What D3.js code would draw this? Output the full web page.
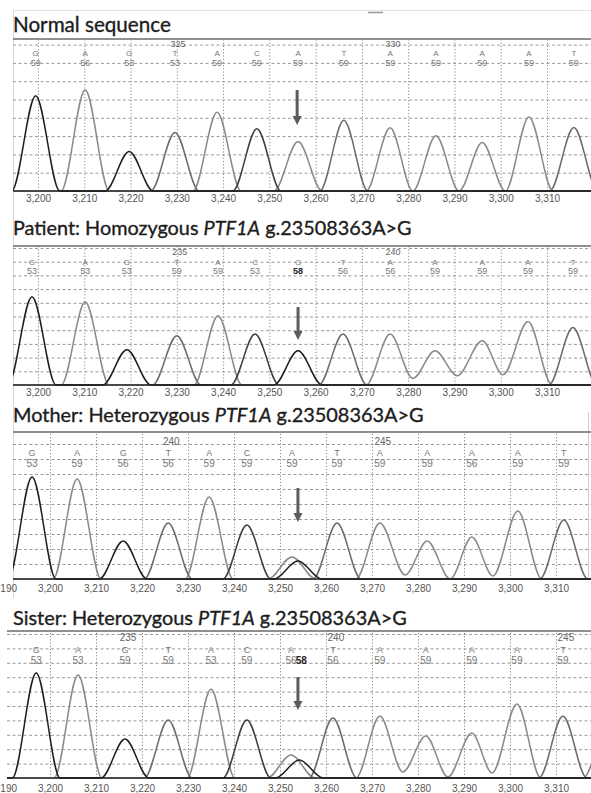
<!DOCTYPE html>
<html>
<head>
<meta charset="utf-8" />
<script src="https://d3js.org/d3.v7.min.js"></script>
<style>
  body { margin: 0; background: #fff; }
  svg { display: block; }
</style>
</head>
<body>
<div class="container"></div>
<script>
  // scan positions on the x axis
  const xTicks = [3190, 3200, 3210, 3220, 3230, 3240, 3250, 3260, 3270, 3280, 3290, 3300, 3310];

  // --- Normal sequence
  const normalTitle = ["Normal sequence"];
  const normalBases = ["G", "A", "G", "T", "A", "C", "A", "T", "A", "A", "A", "A", "T"];
  const normalQuals = ["59", "56", "53", "53", "59", "59", "59", "59", "59", "59", "59", "59", "59"];
  const normalIndex = ["", "", "", "325", "", "", "", "", "330", "", "", "", ""];
  const normalScans = [3199.5, 3210.2, 3219.7, 3229.6, 3238.7, 3247.3, 3256.2, 3266.1, 3276.1, 3286.0, 3296.0, 3306.1, 3315.8];
  const normalHeights = [520, 552, 216, 320, 430, 340, 270, 386, 345, 302, 265, 405, 347];
  const normalValleys = [["A", 3281.0, 0], ["A", 3291.0, 0], ["A", 3301.0, 0]];
  const normalArrow = [3256.0, 552, 361];

  // --- Patient (homozygous)
  const patientTitle = ["Patient: Homozygous ", "PTF1A", " g.23508363A>G"];
  const patientBases = ["G", "A", "G", "T", "A", "C", "G", "T", "A", "A", "A", "A", "T"];
  const patientQuals = ["53", "53", "53", "59", "59", "53", "58", "56", "56", "59", "59", "59", "59"];
  const patientIndex = ["", "", "", "235", "", "", "", "", "240", "", "", "", ""];
  const patientScans = [3198.7, 3210.2, 3219.2, 3230.0, 3238.9, 3246.9, 3256.2, 3265.9, 3276.1, 3285.8, 3296.0, 3305.9, 3315.6];
  const patientHeights = [645, 605, 258, 360, 506, 372, 250, 372, 372, 250, 323, 464, 420];
  const patientValleys = [["A", 3281.0, 48], ["A", 3290.6, 68], ["A", 3300.5, 75]];
  const patientArrow = [3256.2, 569, 328];

  // --- Mother (heterozygous)
  const motherTitle = ["Mother: Heterozygous ", "PTF1A", " g.23508363A>G"];
  const motherBases = ["G", "A", "G", "T", "A", "C", "A", "T", "A", "A", "A", "A", "T"];
  const motherQuals = ["53", "59", "56", "56", "59", "59", "59", "59", "59", "59", "56", "59", "59"];
  const motherIndex = ["", "", "", "240", "", "", "", "", "245", "", "", "", ""];
  const motherScans = [3196.1, 3205.9, 3215.9, 3225.7, 3234.6, 3242.8, 3252.6, 3262.4, 3271.7, 3282.0, 3291.7, 3301.7, 3311.7];
  const motherHeights = [680, 667, 253, 373, 547, 360, 147, 373, 373, 253, 280, 453, 393];
  const motherAltBases = ["G"];
  const motherAltScans = [3253.9];
  const motherAltHeights = [120];
  const motherAltQuals = [""];
  const motherValleys = [["A", 3277.2, 27], ["A", 3287.0, 0], ["A", 3296.3, 20]];
  const motherArrow = [3253.9, 607, 380];

  // --- Sister (heterozygous)
  const sisterTitle = ["Sister: Heterozygous ", "PTF1A", " g.23508363A>G"];
  const sisterBases = ["G", "A", "G", "T", "A", "C", "A", "T", "A", "A", "A", "A", "T"];
  const sisterQuals = ["53", "53", "59", "59", "53", "59", "56", "56", "59", "59", "59", "59", "59"];
  const sisterIndex = ["", "", "235", "", "", "", "", "240", "", "", "", "", "245"];
  const sisterScans = [3197.0, 3206.1, 3216.3, 3225.7, 3235.0, 3242.8, 3252.4, 3261.5, 3271.7, 3281.7, 3291.7, 3301.5, 3311.5];
  const sisterHeights = [729, 715, 271, 403, 618, 403, 160, 417, 431, 292, 313, 514, 431];
  const sisterAltBases = ["G", "A"];
  const sisterAltScans = [3254.2, 3321.1];
  const sisterAltHeights = [125, 350];
  const sisterAltQuals = ["58", ""];
  const sisterValleys = [["A", 3276.7, 42], ["A", 3286.5, 7], ["A", 3296.1, 35]];
  const sisterArrow = [3253.9, 701, 472];

  const baseColor = { G: "#1e1e1e", C: "#3e3e3e", T: "#6c6c6c", A: "#8a8a8a" };
  const halfWidth = 5.2; // scan units from peak to foot
  const W = 591, H = 793;

  const panels = [
    { id: "normal", title: normalTitle, titleWidth: 158, titleY: 32, left: 13, frameTop: 39,
      xRange: [38, 547], baseline: 191, rows: 8, rowGap: 18.3, tickY: 206, labelMinX: 12,
      idxY: 46.5, baseY: 56, qualY: 65.5, callFont: 8,
      bases: normalBases, quals: normalQuals, index: normalIndex, scans: normalScans, heights: normalHeights,
      altBases: [], altScans: [], altHeights: [], altQuals: [], valleys: normalValleys, arrow: normalArrow, darkQual: -1 },
    { id: "patient", title: patientTitle, titleWidth: 399, titleY: 235, left: 13, frameTop: 246,
      xRange: [38, 547], baseline: 385, rows: 10, rowGap: 13.7, tickY: 400, labelMinX: 12,
      idxY: 255, baseY: 264.5, qualY: 273.5, callFont: 8,
      bases: patientBases, quals: patientQuals, index: patientIndex, scans: patientScans, heights: patientHeights,
      altBases: [], altScans: [], altHeights: [], altQuals: [], valleys: patientValleys, arrow: patientArrow, darkQual: 6 },
    { id: "mother", title: motherTitle, titleWidth: 411, titleY: 422, left: 13, frameTop: 432,
      xRange: [50, 556], baseline: 579, rows: 9, rowGap: 15, tickY: 596, labelMinX: 0,
      idxY: 445, baseY: 456, qualY: 467, callFont: 9,
      bases: motherBases, quals: motherQuals, index: motherIndex, scans: motherScans, heights: motherHeights,
      altBases: motherAltBases, altScans: motherAltScans, altHeights: motherAltHeights, altQuals: motherAltQuals,
      valleys: motherValleys, arrow: motherArrow, darkQual: -1 },
    { id: "sister", title: sisterTitle, titleWidth: 394, titleY: 625, left: 7, frameTop: 631,
      xRange: [50, 556], baseline: 778, rows: 10, rowGap: 14.4, tickY: 796, labelMinX: 0,
      idxY: 641, baseY: 652.5, qualY: 663.5, callFont: 9,
      bases: sisterBases, quals: sisterQuals, index: sisterIndex, scans: sisterScans, heights: sisterHeights,
      altBases: sisterAltBases, altScans: sisterAltScans, altHeights: sisterAltHeights, altQuals: sisterAltQuals,
      valleys: sisterValleys, arrow: sisterArrow, darkQual: -1 }
  ];

  const svg = d3.select(".container").append("svg")
    .attr("width", W).attr("height", H)
    .attr("viewBox", [0, 0, W, H]);

  // faint outer frame of the figure
  svg.append("line").attr("x1", 13).attr("x2", W).attr("y1", 10.5).attr("y2", 10.5)
    .attr("stroke", "#e2e2e2");
  svg.append("line").attr("x1", 13.5).attr("x2", 13.5).attr("y1", 10).attr("y2", 598)
    .attr("stroke", "#d8d8d8");
  svg.append("line").attr("x1", 368).attr("x2", 383).attr("y1", 12.5).attr("y2", 12.5)
    .attr("stroke", "#999").attr("stroke-width", 1.5);
  svg.append("line").attr("x1", 588.5).attr("x2", 588.5).attr("y1", 412).attr("y2", 580)
    .attr("stroke", "#d0d0d0");

  function tracePoints(base, peaks, valleys) {
    const own = peaks.filter((d) => d.base === base).sort((a, b) => a.scan - b.scan);
    const vs = valleys.filter((d) => d[0] === base);
    const pts = [[3170, 0]];
    own.forEach((pk, i) => {
      const prev = own[i - 1];
      const next = own[i + 1];
      const vPrev = prev && vs.find((d) => d[1] > prev.scan && d[1] < pk.scan);
      if (vPrev) pts.push([vPrev[1], vPrev[2]]);
      else pts.push([pk.scan - halfWidth, 0]);
      pts.push([pk.scan, pk.height]);
      const vNext = next && vs.find((d) => d[1] > pk.scan && d[1] < next.scan);
      if (!vNext) pts.push([pk.scan + halfWidth, 0]);
    });
    pts.push([3340, 0]);
    return pts.sort((a, b) => a[0] - b[0]);
  }

  function drawPanel(p) {
    const x = d3.scaleLinear().domain([3200, 3310]).range(p.xRange);
    const top = p.baseline - p.rows * p.rowGap;
    const y = d3.scaleLinear().domain([0, p.rows * 100]).range([p.baseline, top]);
    const g = svg.append("g").attr("class", "panel-" + p.id);

    // title
    const title = g.append("text")
      .attr("x", 13).attr("y", p.titleY)
      .attr("font-family", "Lato, 'Open Sans', sans-serif")
      .attr("font-size", 21)
      .attr("fill", "#1c1c1c")
      .attr("stroke", "#1c1c1c")
      .attr("stroke-width", 0.35);
    p.title.forEach((part, i) => {
      title.append("tspan").text(part).attr("font-style", i === 1 ? "italic" : "normal");
    });
    const measured = title.node().getComputedTextLength();
    title.attr("font-size", 21 * p.titleWidth / measured);

    // frame line under the title
    g.append("line")
      .attr("x1", p.left).attr("x2", W)
      .attr("y1", p.frameTop).attr("y2", p.frameTop)
      .attr("stroke", "#6a6a6a").attr("stroke-width", 1.5);

    // horizontal dashed grid
    const yTicks = d3.range(1, p.rows + 1).map((k) => k * 100);
    g.append("g")
      .attr("transform", `translate(${p.left},0)`)
      .call(d3.axisLeft(y).tickValues(yTicks).tickSize(-(W - p.left)).tickFormat(""))
      .call((a) => a.select(".domain").remove())
      .call((a) => a.selectAll("line")
        .attr("stroke", "#9a9a9a").attr("stroke-dasharray", "3,2.5"));

    // vertical dotted grid
    const vTicks = xTicks.filter((t) => x(t) > p.left + 2 && x(t) < W - 1);
    g.append("g")
      .attr("transform", `translate(0,${p.baseline})`)
      .call(d3.axisBottom(x).tickValues(vTicks).tickSize(-(p.baseline - p.frameTop)).tickFormat(""))
      .call((a) => a.select(".domain").remove())
      .call((a) => a.selectAll("line")
        .attr("stroke", "#8a8a8a").attr("stroke-dasharray", "1.2,2"));

    // x tick labels
    const labelTicks = xTicks.filter((t) => x(t) >= p.labelMinX);
    g.append("g")
      .attr("transform", `translate(0,${p.tickY - 11})`)
      .call(d3.axisBottom(x).tickValues(labelTicks).tickSize(0).tickPadding(0).tickFormat(d3.format(",")))
      .call((a) => a.select(".domain").remove())
      .call((a) => a.selectAll("text")
        .attr("font-family", "'Liberation Sans', Arial, sans-serif")
        .attr("font-size", 10)
        .attr("fill", "#555")
        .attr("dy", "0.71em"));

    // base calls
    const calls = g.append("g")
      .attr("font-family", "'Liberation Sans', Arial, sans-serif")
      .attr("text-anchor", "middle");
    calls.selectAll("text.idx")
      .data(p.index.map((t, i) => [t, p.scans[i]]).filter((d) => d[0]))
      .join("text").attr("class", "idx")
      .attr("x", (d) => x(d[1]) + 3).attr("y", p.idxY)
      .attr("font-size", p.callFont + 1).attr("fill", "#666")
      .text((d) => d[0]);
    calls.selectAll("text.base")
      .data(p.bases.map((b, i) => [b, p.scans[i]]))
      .join("text").attr("class", "base")
      .attr("x", (d) => x(d[1])).attr("y", p.baseY)
      .attr("font-size", p.callFont).attr("fill", "#777")
      .text((d) => d[0]);
    calls.selectAll("text.qual")
      .data(p.quals.map((q, i) => [q, p.scans[i], i]))
      .join("text").attr("class", "qual")
      .attr("x", (d) => x(d[1])).attr("y", p.qualY)
      .attr("font-size", p.callFont + 1)
      .attr("fill", (d) => (d[2] === p.darkQual ? "#222" : "#777"))
      .attr("font-weight", (d) => (d[2] === p.darkQual ? "bold" : "normal"))
      .text((d) => d[0]);
    calls.selectAll("text.altqual")
      .data(p.altQuals.map((q, i) => [q, p.altScans[i]]).filter((d) => d[0]))
      .join("text").attr("class", "altqual")
      .attr("x", (d) => x(d[1]) + 2).attr("y", p.qualY)
      .attr("font-size", p.callFont + 1)
      .attr("fill", "#222").attr("font-weight", "bold")
      .text((d) => d[0]);

    // clip for traces
    const clipId = "clip-" + p.id;
    svg.append("clipPath").attr("id", clipId)
      .append("rect")
      .attr("x", p.left).attr("y", p.frameTop)
      .attr("width", W - p.left).attr("height", p.baseline - p.frameTop + 3);

    // baseline
    g.append("line")
      .attr("x1", p.left).attr("x2", W)
      .attr("y1", y(0)).attr("y2", y(0))
      .attr("stroke", "#333").attr("stroke-width", 2);

    // traces
    const peaks = p.bases.map((b, i) => ({ base: b, scan: p.scans[i], height: p.heights[i] }))
      .concat(p.altBases.map((b, i) => ({ base: b, scan: p.altScans[i], height: p.altHeights[i] })));
    const line = d3.line()
      .x((d) => x(d[0]))
      .y((d) => y(d[1]))
      .curve(d3.curveMonotoneX);
    g.append("g")
      .attr("clip-path", `url(#${clipId})`)
      .attr("fill", "none")
      .attr("stroke-width", 1.5)
      .attr("stroke-linejoin", "round")
      .selectAll("path")
      .data(["A", "T", "C", "G"])
      .join("path")
      .attr("stroke", (b) => baseColor[b])
      .attr("d", (b) => line(tracePoints(b, peaks, p.valleys)));

    // arrow at the variant
    const ax = x(p.arrow[0]);
    const y1 = y(p.arrow[1]);
    const y2 = y(p.arrow[2]);
    const head = 9;
    g.append("path")
      .attr("fill", "#5c5c5c")
      .attr("d", `M${ax - 1.5},${y1} L${ax + 1.5},${y1} L${ax + 1.5},${y2 - head} L${ax + 4.5},${y2 - head} L${ax},${y2} L${ax - 4.5},${y2 - head} L${ax - 1.5},${y2 - head} Z`);
  }

  panels.forEach(drawPanel);
</script>
</body>
</html>
